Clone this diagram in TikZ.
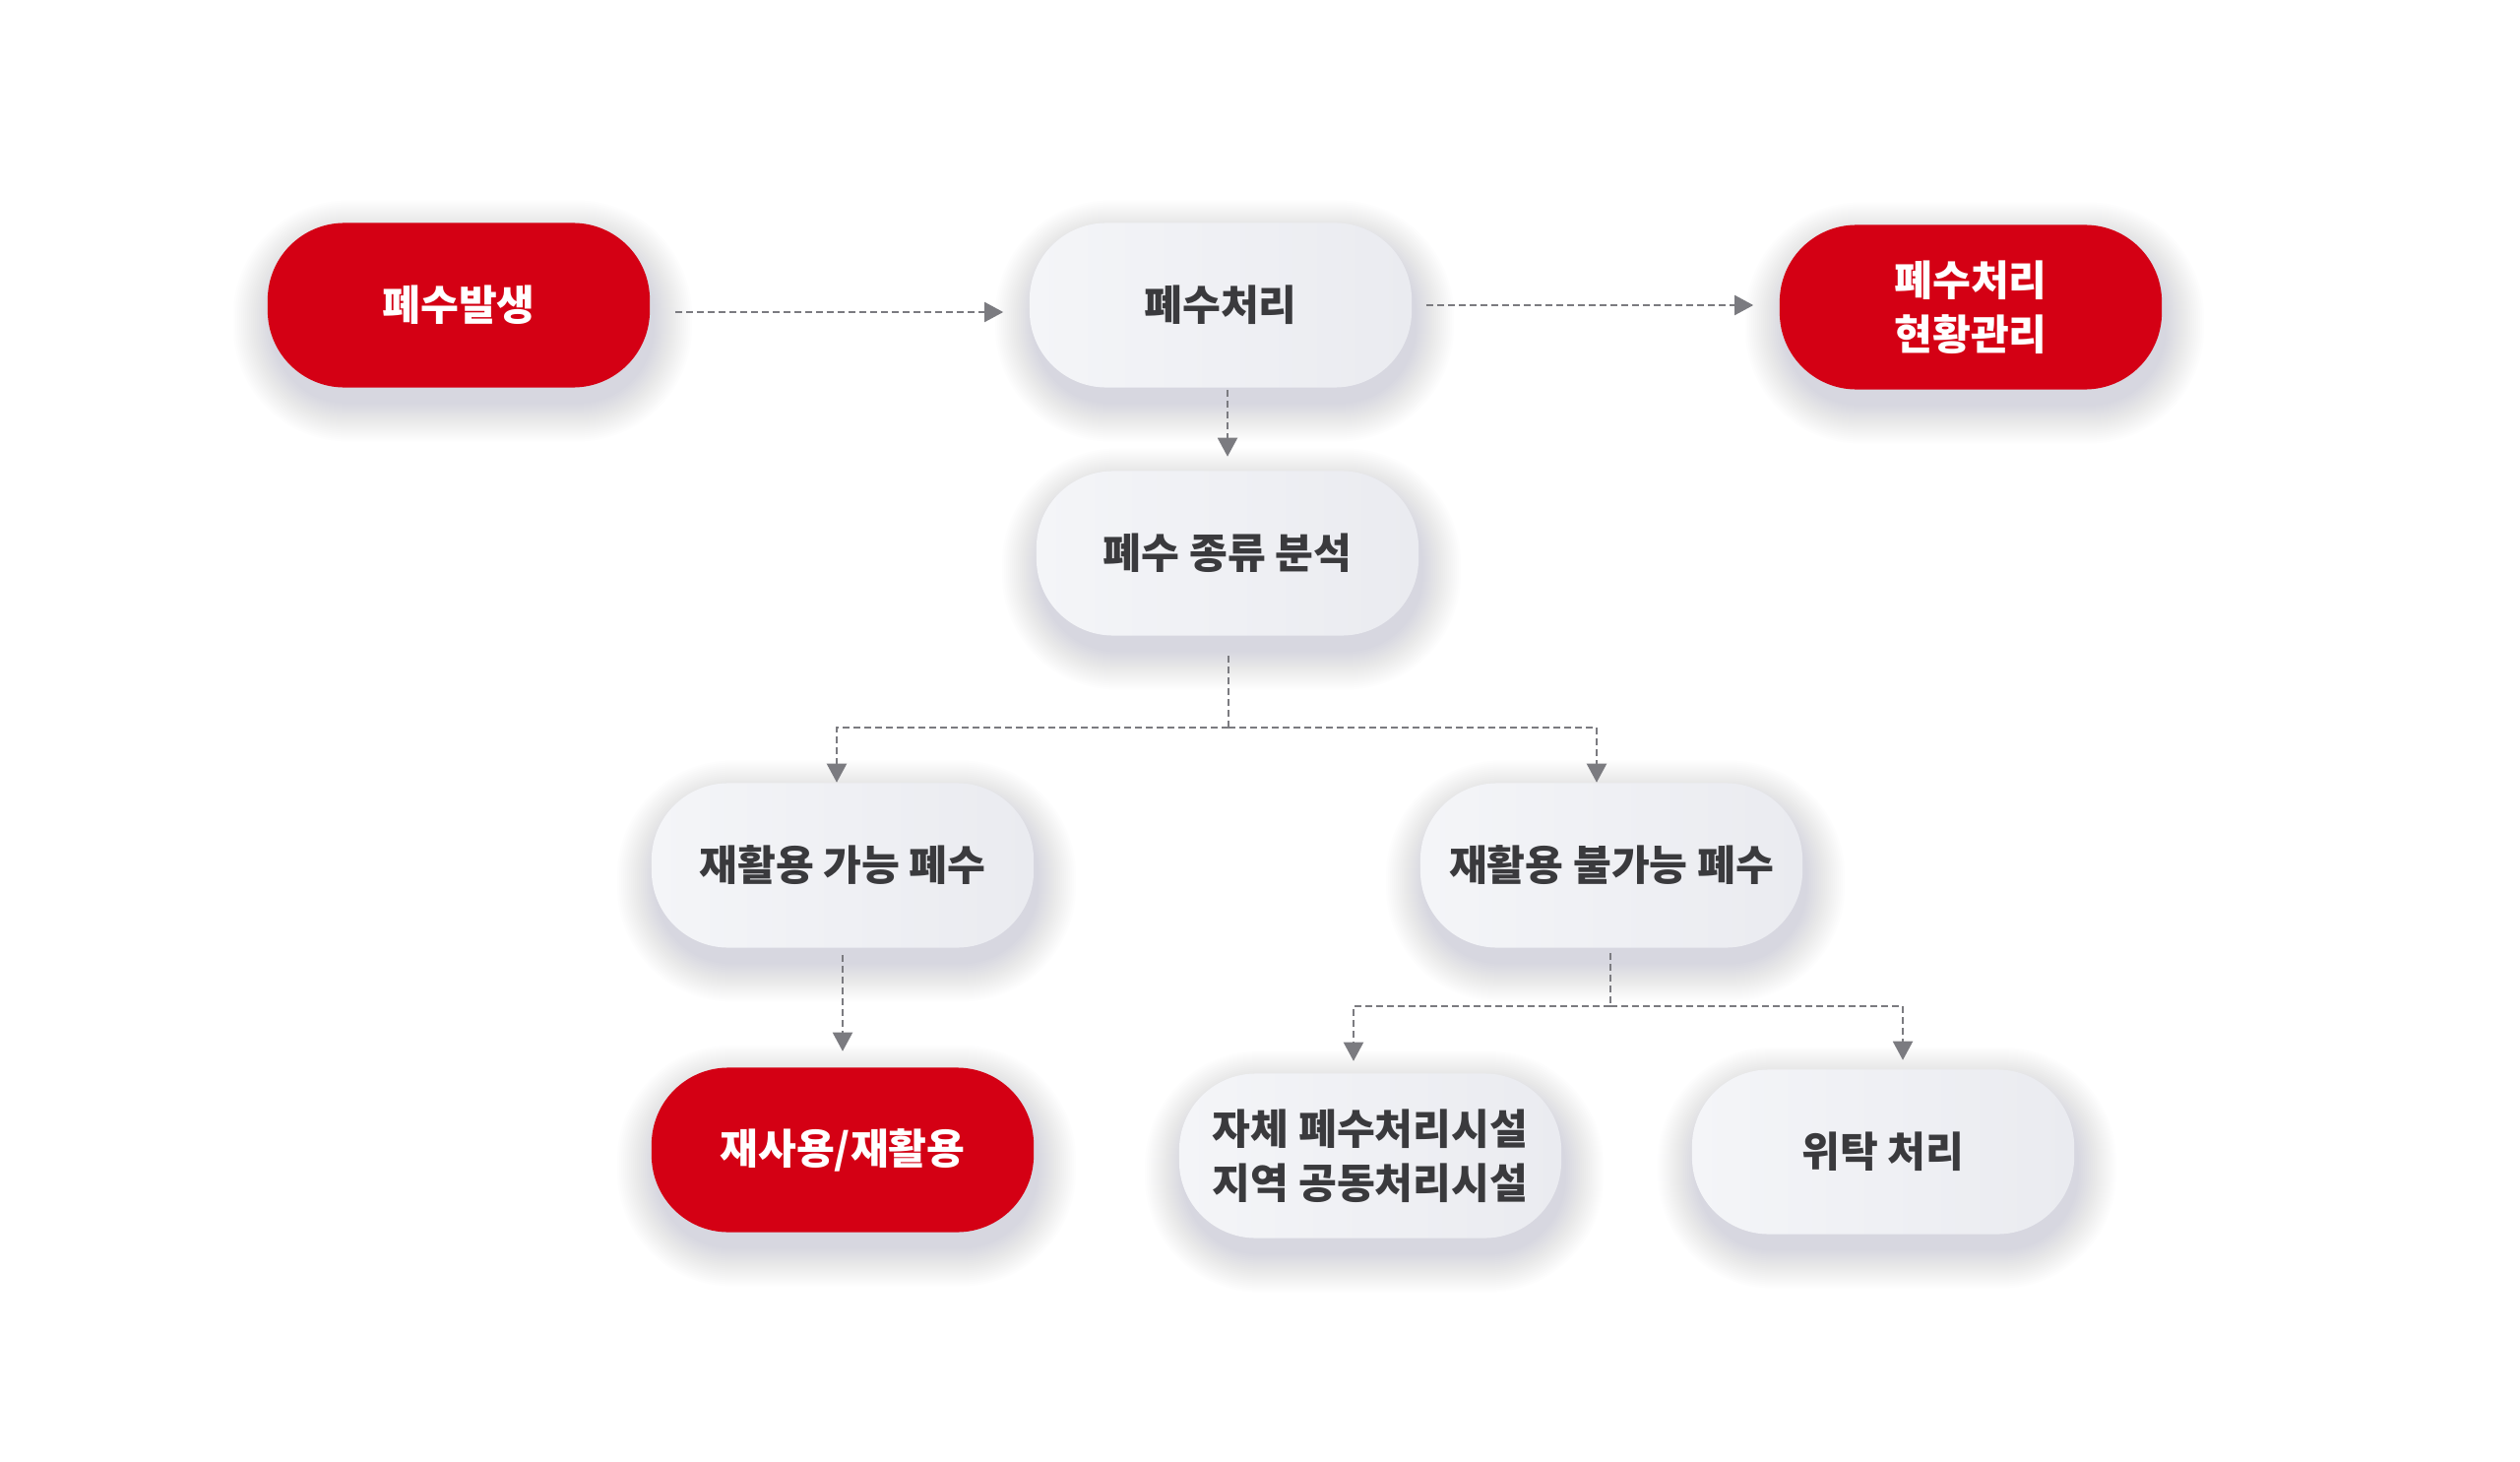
\documentclass[tikz,border=0pt]{standalone}
\usepackage{fontspec}
\newfontfamily\krfont{Noto Sans CJK KR}
\usetikzlibrary{arrows.meta}
\definecolor{redfill}{HTML}{D40014}
\definecolor{graya}{HTML}{F4F5F8}
\definecolor{grayb}{HTML}{EAEBF0}
\definecolor{txt}{HTML}{3A3A3D}
\definecolor{linec}{HTML}{7B7B80}
\definecolor{shadowc}{HTML}{8E91AA}
\pgfdeclarelayer{bg}
\pgfsetlayers{bg,main}
\tikzset{
  pill/.style={minimum width=3.88cm, minimum height=1.67cm, rounded corners=0.78cm,
    align=center, inner sep=0pt,
    font=\krfont\bfseries\fontsize{12}{15.6}\selectfont},
  redpill/.style={pill, fill=redfill, text=white},
  graypill/.style={pill, left color=graya, right color=grayb, text=txt},
  dline/.style={draw=linec, line width=0.02cm, dash pattern=on 0.07cm off 0.04cm},
  flow/.style={dline, -{Triangle[length=0.19cm,width=0.2cm]}},
}
\begin{document}
\begin{tikzpicture}[x=0.01cm, y=-0.01cm]
  \useasboundingbox (0,0) rectangle (2560,1485);

  \node[redpill]  (gen)   at (466,310)   {폐수발생};
  \node[graypill] (proc)  at (1240,310)  {폐수처리};
  \node[redpill]  (mgmt)  at (2002,312)  {폐수처리\\현황관리};
  \node[graypill] (anal)  at (1247,562)  {폐수 종류 분석};
  \node[graypill] (recy)  at (856,879)   {재활용 가능 폐수};
  \node[graypill] (nrecy) at (1637,879)  {재활용 불가능 폐수};
  \node[redpill]  (reuse) at (856,1168)  {재사용/재활용};
  \node[graypill] (self)  at (1392,1174) {자체 폐수처리시설\\지역 공동처리시설};
  \node[graypill] (cons)  at (1913,1170) {위탁 처리};

  % white page and soft drop shadows
  \begin{pgfonlayer}{bg}
    \fill[white] (0,0) rectangle (2560,1485);
    \foreach \n in {gen,proc,mgmt,anal,recy,nrecy,reuse,self,cons}{
      \foreach \i in {0,...,19}{
        \pgfmathsetmacro\d{0.02*\i}
        \pgfmathsetmacro\rr{0.78+\d}
        \pgfmathsetmacro\xl{0.04-\d}
        \pgfmathsetmacro\xr{0.04+\d}
        \pgfmathsetmacro\yt{-0.16+\d}
        \pgfmathsetmacro\yb{-0.16-\d}
        \fill[shadowc, opacity=0.014, rounded corners=\rr cm]
          ([shift={(\xl cm,\yt cm)}]\n.north west) rectangle ([shift={(\xr cm,\yb cm)}]\n.south east);
      }
    }
  \end{pgfonlayer}

  \coordinate (b1) at (1248,739);
  \coordinate (b2) at (1636,1022);

  \draw[flow, shorten <=0.25cm, shorten >=0.26cm]
    ([yshift=-0.07cm]gen.east) -- ([yshift=-0.07cm]proc.west);
  \draw[flow, shorten <=0.14cm, shorten >=0.26cm] (proc.east) -- (proc.east -| mgmt.west);
  \draw[flow, shorten <=0.02cm, shorten >=0.14cm] ([xshift=0.07cm]proc.south) -- ([xshift=0.07cm]proc.south |- anal.north);

  \draw[dline, shorten <=0.2cm] (b1 |- anal.south) -- (b1);
  \draw[flow] (b1) -| ([xshift=-0.06cm]recy.north);
  \draw[flow] (b1) -| ([xshift=-0.15cm]nrecy.north);

  \draw[flow, shorten <=0.07cm, shorten >=0.16cm] (recy.south) -- (recy.south |- reuse.north);

  \draw[dline, shorten <=0.05cm] (b2 |- nrecy.south) -- (b2);
  \draw[flow, shorten >=0.12cm] (b2) -| ([xshift=-0.17cm]self.north);
  \draw[flow, shorten >=0.09cm] (b2) -| ([xshift=0.2cm]cons.north);
\end{tikzpicture}
\end{document}
